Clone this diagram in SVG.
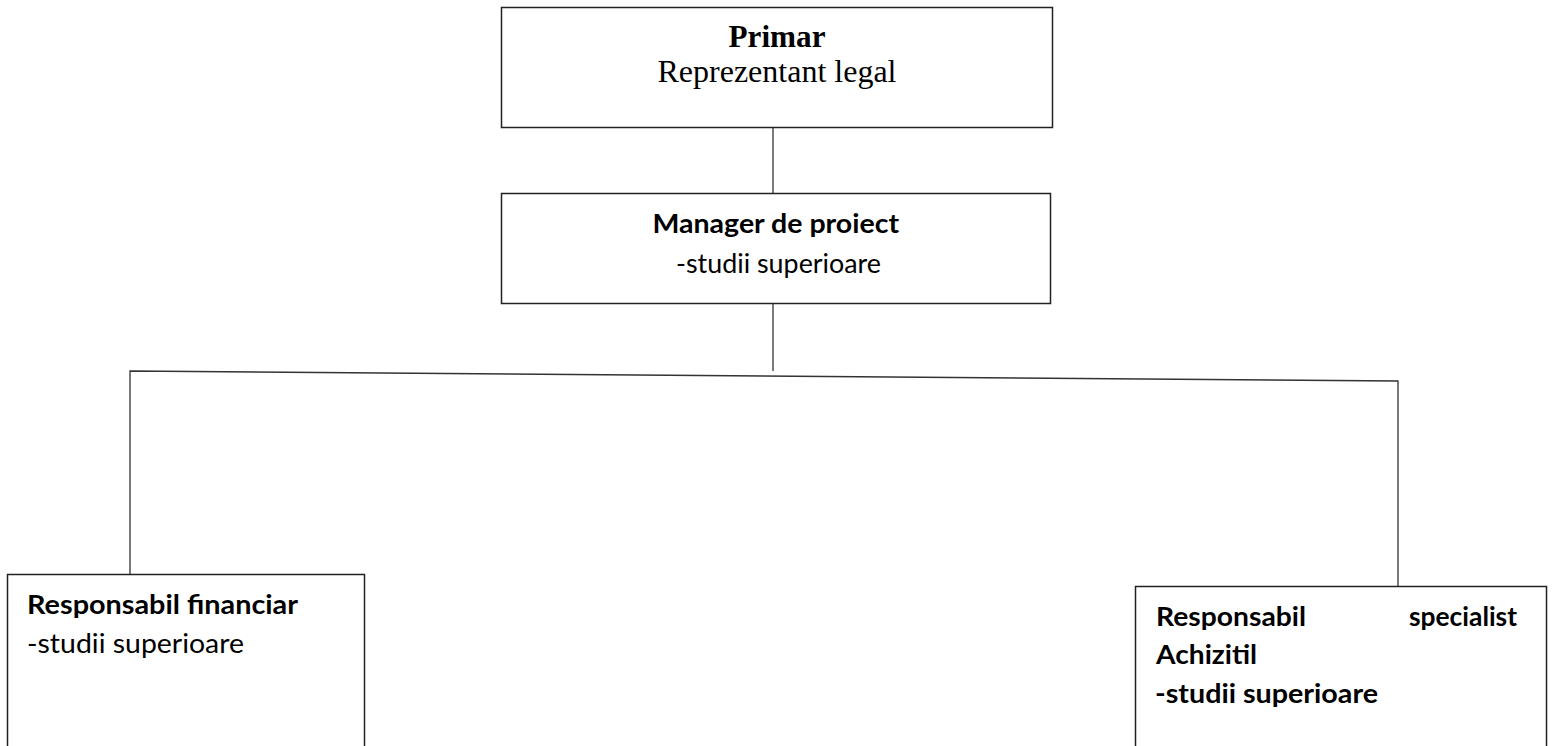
<svg xmlns="http://www.w3.org/2000/svg" width="1553" height="746" viewBox="0 0 1553 746">
<style>
.box{fill:#fff;stroke:#222;stroke-width:1.5}
.ln{fill:none;stroke:#333;stroke-width:1.3}
.tb{font-family:"Liberation Serif","Times New Roman",serif;font-size:31px;fill:#000}
.cb{font-family:Lato,"Open Sans","Liberation Sans",sans-serif;font-size:26px;fill:#000}
.b{font-weight:bold}
</style>
<rect width="1553" height="746" fill="#fff"/>
<g id="connectors">
<line class="ln" x1="773" y1="128" x2="773" y2="193"/>
<line class="ln" x1="773" y1="303" x2="773" y2="371"/>
<polyline class="ln" points="130,574 130,371 1398,381 1398,586"/>
</g>
<g id="primar">
<rect class="box" x="501.5" y="7.5" width="551" height="120"/>
<text class="tb b" x="777" y="47" text-anchor="middle" textLength="97" lengthAdjust="spacingAndGlyphs">Primar</text>
<text class="tb" x="777" y="82" text-anchor="middle" textLength="239" lengthAdjust="spacingAndGlyphs">Reprezentant legal</text>
</g>
<g id="manager">
<rect class="box" x="501.5" y="193.5" width="549" height="110"/>
<text class="cb b" x="652.5" y="233" textLength="246.5" lengthAdjust="spacingAndGlyphs">Manager de proiect</text>
<text class="cb" x="676" y="272.5" textLength="205" lengthAdjust="spacingAndGlyphs">-studii superioare</text>
</g>
<g id="financiar">
<rect class="box" x="7.5" y="574.5" width="357" height="190"/>
<text class="cb b" x="27" y="614" textLength="271" lengthAdjust="spacingAndGlyphs">Responsabil financiar</text>
<text class="cb" x="27" y="653" textLength="217" lengthAdjust="spacingAndGlyphs">-studii superioare</text>
</g>
<g id="achizitii">
<rect class="box" x="1135.5" y="586.5" width="411" height="180"/>
<text class="cb b" x="1156" y="626" textLength="150" lengthAdjust="spacingAndGlyphs">Responsabil</text>
<text class="cb b" x="1409" y="626" textLength="108" lengthAdjust="spacingAndGlyphs">specialist</text>
<text class="cb b" x="1156" y="664" textLength="101" lengthAdjust="spacingAndGlyphs">Achizitil</text>
<text class="cb b" x="1155" y="703" textLength="223" lengthAdjust="spacingAndGlyphs">-studii superioare</text>
</g>
</svg>
